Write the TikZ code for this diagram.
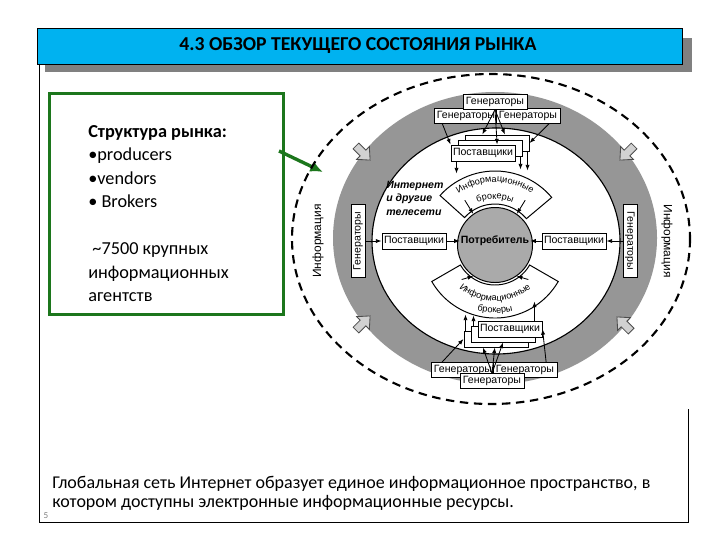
\documentclass[tikz,border=0pt]{standalone}
\usepackage[rgb]{xcolor}
\usepackage{fontspec}
\setmainfont{Carlito}
\newfontfamily\diagfont{Liberation Sans}
\usetikzlibrary{arrows.meta,decorations.text}

\definecolor{titleblue}{RGB}{0,178,240}
\definecolor{shadowgray}{RGB}{128,128,128}
\definecolor{boxgreen}{RGB}{28,118,28}
\definecolor{ringgray}{RGB}{150,150,150}
\definecolor{discgray}{RGB}{170,170,170}

\begin{document}
\begin{tikzpicture}[x=0.025cm, y=-0.025cm,
  flow/.style={-{Latex[length=4pt,width=3pt]}, line width=0.6pt},
  diagbox/.style={draw, fill=white, line width=0.7pt, inner sep=1pt,
    minimum width=1.6cm, minimum height=0.4cm,
    font=\diagfont\fontsize{7.5}{9}\selectfont},
  sector/.style={draw, fill=white, line width=0.7pt},
  blockarrow/.style={draw=black!70, fill=black!18, line width=0.6pt},
  infolabel/.style={font=\diagfont\fontsize{8.5}{10}\selectfont}]

\useasboundingbox (0,0) rectangle (720,540);
\fill[white] (0,0) rectangle (720,540);

% title bar with its shadow
\fill[shadowgray] (45,38) rectangle (692,72);
\fill[titleblue] (37,28) rectangle (682,64);
\draw[line width=0.6pt] (37,28) rectangle (682,64);
\node (title) at (358,46)
  {\fontsize{14}{16}\selectfont\bfseries 4.3 ОБЗОР ТЕКУЩЕГО СОСТОЯНИЯ РЫНКА};

% slide frame
\draw[line width=0.7pt] (39,64) -- (39,522) -- (688,522) -- (688,409);

% picture area
\fill[white] (282,72) rectangle (690,409);

% green box
\node (marketbox) [draw=boxgreen, line width=2.2pt, minimum width=5.85cm,
  minimum height=5.525cm, anchor=north west] at (48,92) {};
\node (market) [anchor=north west, inner sep=0, align=left,
  font=\fontsize{13}{16.7}\selectfont] at (88,125)
  {\textbf{Структура рынка:}\\
   •producers\\
   •vendors\\
   • Brokers\\[16.7pt]
   \ \textasciitilde7500 крупных\\
   информационных\\
   агентств};
\coordinate (gstart) at (279,151);
\coordinate (gend) at (323,172);
\draw[boxgreen, line width=2.4pt, -{Latex[length=9pt,width=8pt]}] (gstart) -- (gend);

%% the market diagram
% outer dashed border
\draw[line width=1.5pt, dash pattern=on 6pt off 4pt] (491,239) ellipse [x radius=199, y radius=165];

% grey ring
\fill[ringgray, even odd rule] (495,238) ellipse [x radius=162, y radius=146]
  (496,241) ellipse [x radius=124, y radius=113];
\draw[line width=0.8pt] (496,241) ellipse [x radius=124, y radius=113];

% inward block arrows
\foreach \ax/\ay/\ang in {363/153/-45, 627/153/-135, 363/323/45, 624/324/135}
  {
    \draw[blockarrow, shift={(\ax,\ay)}, rotate=\ang]
      (-10,-4) -- (0,-4) -- (0,-9) -- (10,0) -- (0,9) -- (0,4) -- (-10,4) -- cycle;
  }

\node (infoleft) [infolabel, rotate=90] at (318,241) {Информация};
\node (inforight) [infolabel, rotate=-90] at (667,241) {Информация};

% brokers sectors
\begin{scope}[shift={(495,245)}]
  \draw[sector] (222:74) arc[start angle=222, end angle=320, radius=74]
    -- (320:41) arc[start angle=320, end angle=222, radius=41] -- cycle;
  \draw[sector] (150:73) arc[start angle=150, end angle=30, radius=73]
    -- (30:40) arc[start angle=30, end angle=150, radius=40] -- cycle;
  \path[decorate, decoration={text along path, text align=center,
    text={|\diagfont\fontsize{6.5}{7}\selectfont|Информационные}}]
    (212:63) arc[start angle=212, end angle=328, radius=63];
  \path[decorate, decoration={text along path, text align=center,
    text={|\diagfont\fontsize{6.5}{7}\selectfont|брокеры}}]
    (235:46) arc[start angle=235, end angle=305, radius=46];
  \path[decorate, decoration={text along path, text align=center,
    text={|\diagfont\fontsize{6.5}{7}\selectfont|Информационные}}]
    (152:56) arc[start angle=152, end angle=28, radius=56];
  \path[decorate, decoration={text along path, text align=center,
    text={|\diagfont\fontsize{6.5}{7}\selectfont|брокеры}}]
    (125:68) arc[start angle=125, end angle=55, radius=68];
  \coordinate (ubrk1) at (236:54);
  \coordinate (ubrk2) at (304:54);
  \coordinate (lbrk1) at (134:48);
  \coordinate (lbrk2) at (46:48);
\end{scope}

% consumer
\node (consumerdisc) [circle, draw, fill=discgray, line width=0.7pt,
  minimum size=1.875cm, inner sep=0] at (495,245) {};
\node (consumer) [inner sep=0.5pt, font=\diagfont\bfseries\fontsize{7.5}{9}\selectfont]
  at (495,241) {Потребитель};
\draw[flow] (ubrk1) -- (consumerdisc.125);
\draw[flow] (ubrk2) -- (consumerdisc.55);
\draw[flow] (lbrk1) -- (consumerdisc.-125);
\draw[flow] (lbrk2) -- (consumerdisc.-55);

\node (netlabel) [anchor=north west, inner sep=0, align=left,
  font=\diagfont\bfseries\itshape\fontsize{7.5}{9.5}\selectfont] at (386,181)
  {Интернет\\и другие\\телесети};

% side generators and suppliers
\node (leftgen) [diagbox, rotate=90, minimum width=1.825cm, minimum height=0.35cm]
  at (358,241) {Генераторы};
\node (leftsup) [diagbox] at (414,241) {Поставщики};
\node (rightgen) [diagbox, rotate=-90, minimum width=1.825cm, minimum height=0.35cm]
  at (630,241) {Генераторы};
\node (rightsup) [diagbox] at (574,241) {Поставщики};
\draw[flow] (leftgen) -- (leftsup);
\draw[flow] (leftsup) -- (consumer);
\draw[flow] (rightgen) -- (rightsup);
\draw[flow] (rightsup) -- (consumer);

% top cluster
\node (topgenl) [diagbox, minimum height=0.36cm] at (466,116) {Генераторы};
\node (topgenr) [diagbox, minimum height=0.36cm] at (528,116) {Генераторы};
\node (topgen) [diagbox, minimum height=0.36cm] at (495,102) {Генераторы};
\node (topsupc) [diagbox] at (497,143) {\phantom{Поставщики}};
\node (topsupb) [diagbox] at (490,148) {\phantom{Поставщики}};
\node (topsupa) [diagbox] at (483,153) {Поставщики};
\draw[flow] (topgen.south) -- (topsupc.150);
\draw[flow] (topgen.south) -- (topsupa.31);
\draw[flow] (topgen.south) -- (topsupc.47);
\draw[flow] (topgenl.198) -- (topsupa.north west);
\draw[flow] (topgenr.340) -- (topsupc.east);
\draw[flow] (topsupa.south west) ++(6,0) -- ++(0,12);
\draw[flow] (topsupb.south east) ++(-2,0) -- ++(0,13);
\draw[flow] (topsupc.south east) ++(-2,0) -- ++(0,19);

% bottom cluster
\node (botgenl) [diagbox, minimum height=0.36cm] at (463,370) {Генераторы};
\node (botgenr) [diagbox, minimum height=0.36cm] at (525,370) {Генераторы};
\node (botgen) [diagbox, minimum height=0.36cm] at (492,381) {Генераторы};
\node (botsupc) [diagbox] at (496,339) {\phantom{Поставщики}};
\node (botsupb) [diagbox] at (503,334) {\phantom{Поставщики}};
\node (botsupa) [diagbox] at (510,329) {Поставщики};
\draw[flow] (botgen.north) -- (botsupc.213);
\draw[flow] (botgen.north) -- (botsupc.262);
\draw[flow] (botgen.north) -- (botsupb.south);
\draw[flow] (botgenl.160) -- (botsupc.west);
\draw[flow] (botgenr.20) -- (botsupa.east);
\draw[flow] (botsupc.north west) ++(2,0) -- ++(0,-16);
\draw[flow] (botsupb.north west) ++(3,0) -- ++(0,-10);
\draw[flow] (botsupa.north east) ++(-8,0) -- ++(0,-19);

% caption
\node (caption) [anchor=north west, inner sep=0, align=left,
  font=\fontsize{12.8}{13.5}\selectfont] at (52,476)
  {Глобальная сеть Интернет образует единое информационное пространство, в\\
   котором доступны электронные информационные ресурсы.};
\node (pagenum) [inner sep=0, text=shadowgray, font=\fontsize{6.5}{7}\selectfont]
  at (46,516) {5};

\end{tikzpicture}
\end{document}
